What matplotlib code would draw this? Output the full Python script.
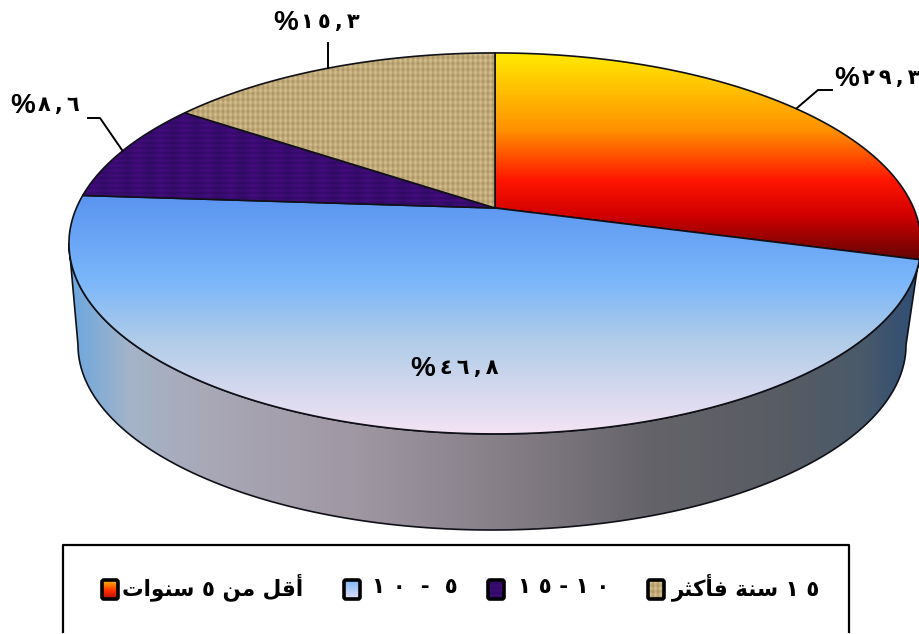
import numpy as np
import matplotlib
matplotlib.use('Agg')
import matplotlib.pyplot as plt
from matplotlib.patches import Polygon, FancyBboxPatch

# Shares clockwise from 12 o'clock, percent
shares = [29.3, 46.8, 8.6, 15.3]
value_labels = ['\u0662\u2009\u0669\u2009,\u2009\u0663', '\u0664\u2009\u0666\u2009,\u2009\u0668',
                '\u0668\u2009,\u2009\u0666', '\u0661\u2009\u0665\u2009,\u2009\u0663']

# Legend texts, already shaped and in visual order (matplotlib does no Arabic shaping)
legend_labels = [
    '\ufe95\ufe8d\ufeee\ufee8\ufeb3 \u0665 \ufee6\ufee3 \ufede\ufed7\ufe83',
    '\u0661 \u0660  -  \u0665',
    '\u0661 \u0665 - \u0661 \u0660',
    '\ufeae\ufe9c\ufedb\ufe84\ufed3 \ufe94\ufee8\ufeb3 \u0661 \u0665',
]

# Gradient stops: (pixel position, colour)
orange_stops = [(53, '#ffea00'), (130, '#ff9000'), (180, '#ff1500'), (215, '#d00000'), (262, '#5c0505')]
blue_stops = [(195, '#5a94f0'), (280, '#7ab6fa'), (340, '#b0cce8'), (434, '#f5e4f4')]
side_stops = [(75, '#6fa8de'), (130, '#a4b4c8'), (200, '#a9a9b8'), (350, '#a098a3'), (500, '#877f88'),
              (650, '#65636a'), (780, '#585c63'), (860, '#4a5a6a'), (918, '#2e4d74')]

W, H = 920, 634


def hex_rgb(c):
    return np.array(matplotlib.colors.to_rgb(c))


def ramp(stops, n):
    pos = [s[0] for s in stops]
    cols = np.array([hex_rgb(s[1]) for s in stops])
    t = np.arange(n)
    return np.stack([np.interp(t, pos, cols[:, i]) for i in range(3)], axis=-1)


def vertical(stops):
    return np.repeat(ramp(stops, H)[:, None, :], W, axis=1)


def horizontal(stops):
    return np.repeat(ramp(stops, W)[None, :, :], H, axis=0)


def weave():
    yy, xx = np.mgrid[0:H, 0:W]
    shade = 0.5 + 0.22 * np.cos(2 * np.pi * xx / 5.0) + 0.16 * np.cos(2 * np.pi * yy / 6.0)
    a, b = hex_rgb('#a58c5c'), hex_rgb('#dcc896')
    return a + (b - a) * np.clip(shade, 0, 1)[..., None]


def purple_cloth():
    yy, xx = np.mgrid[0:H, 0:W]
    shade = 0.5 + 0.25 * np.cos(2 * np.pi * yy / 5.0) + 0.2 * np.cos(2 * np.pi * xx / 23.0)
    a, b = hex_rgb('#2e0a62'), hex_rgb('#450c7e')
    return a + (b - a) * np.clip(shade, 0, 1)[..., None]


# Perspective view of the unit circle onto the picture
CX, CY, K, A, B = 495.0, 208.0, 0.186, 418.6, 183.9


def project(deg):
    th = np.radians(90.0 - np.asarray(deg))
    u, v = np.cos(th), np.sin(th)
    w = 1 + K * v
    return np.column_stack([CX + A * u / w, CY - B * v / w])


fig = plt.figure(figsize=(9.2, 6.34), dpi=100)
ax = fig.add_axes([0, 0, 1, 1])
ax.axis('off')


def fill(points, image, z, lw=1.2):
    p = Polygon(points, closed=True, fc='none', ec='none', transform=ax.transData)
    ax.add_patch(p)
    im = ax.imshow(image, extent=(0, W, H, 0), aspect='auto', interpolation='bilinear', zorder=z)
    im.set_clip_path(p)
    ax.add_patch(Polygon(points, closed=True, fc='none', ec='#101018', lw=lw, zorder=z + 0.5))


# Side wall: front of the top face, then the lower rim from left to right
t = np.linspace(np.pi, 0, 200)
rim = np.column_stack([492 + 414 * np.cos(t), 345 + 185 * np.sin(t)])
wall = np.vstack([project(np.linspace(100.7, 259.3, 200)), rim])
fill(wall, horizontal(side_stops), 2)

# Top face slices
images = [vertical(orange_stops), vertical(blue_stops), purple_cloth(), weave()]
edges = np.concatenate([[0], np.cumsum(shares)]) / sum(shares) * 360.0
for i in range(len(shares)):
    arc = project(np.linspace(edges[i], edges[i + 1], 200))
    fill(np.vstack([[CX, CY], arc]), images[i], 3 + i)

# Leader lines
for xs, ys in [((328, 328), (43, 68)), ((832, 818, 797), (90, 90, 108)), ((88, 100, 122), (118, 118, 150))]:
    ax.plot(xs, ys, color='black', lw=1.4, zorder=9)

# Value labels: (percent x, digits x, y)
label_pos = [(847, 891, 79), (423, 469, 369), (23, 59, 106), (286, 330, 23)]
for text, (px, dx, y) in zip(value_labels, label_pos):
    ax.text(px, y, '%', fontsize=20, fontweight='bold', family='Liberation Sans',
            ha='center', va='center', zorder=10)
    ax.text(dx, y - 1, text, fontsize=15, fontweight='bold', family='DejaVu Sans',
            ha='center', va='center', zorder=10)

# Legend frame, its bottom edge is cut off in the source
ax.plot([63, 63, 849, 849], [632, 545, 545, 632], color='black', lw=1.6, zorder=1)
marker_x = [101, 343, 487, 647]
text_x = [213, 415, 564, 746]
swatches = [vertical([(579, '#ffc800'), (590, '#ff3000'), (601, '#a00000')]),
            vertical([(579, '#7ab6fa'), (601, '#f0e4f4')]), purple_cloth(), weave()]
for i in range(4):
    box = FancyBboxPatch((marker_x[i] + 2, 581), 14, 17, boxstyle='round,pad=1,rounding_size=2',
                         fc='none', ec='black', lw=2.6, zorder=8)
    ax.add_patch(box)
    im = ax.imshow(swatches[i], extent=(0, W, H, 0), aspect='auto', zorder=7)
    im.set_clip_path(box)
    ax.text(text_x[i], 587, legend_labels[i], fontsize=15.5, fontweight='bold', family='DejaVu Sans',
            ha='center', va='center', zorder=10)

ax.set_xlim(0, W)
ax.set_ylim(H, 0)
fig.savefig('out.png', dpi=100, facecolor='white')
